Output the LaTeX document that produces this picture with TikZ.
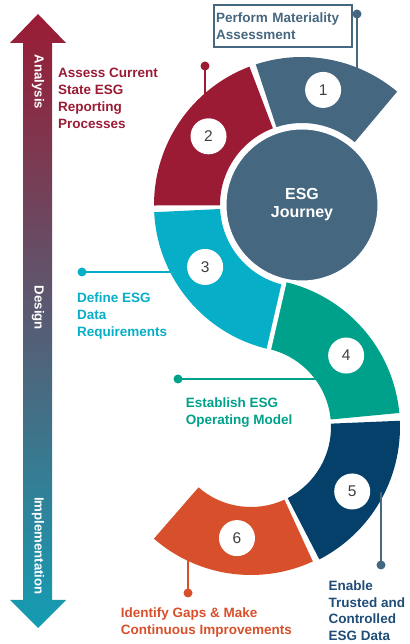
\documentclass[tikz,border=0pt]{standalone}
\usepackage{fontspec}
\setmainfont{Liberation Sans}
\usetikzlibrary{calc}
\definecolor{slate}{HTML}{466780}
\definecolor{crimson}{HTML}{9B1B34}
\definecolor{cyanseg}{HTML}{06AEC7}
\definecolor{tealseg}{HTML}{00A18A}
\definecolor{navyseg}{HTML}{05406A}
\definecolor{navytext}{HTML}{1F4D78}
\definecolor{orangeseg}{HTML}{D8502B}
\definecolor{mauve}{HTML}{7B5C76}
\definecolor{arrowteal}{HTML}{139DB3}
\definecolor{numgray}{HTML}{404040}
\newcommand\labfont{\fontsize{13.5}{17}\selectfont\bfseries}
\newcommand\ringseg[6]{%
  \fill[#6] ($(#1)+(#2:#4)$) arc[start angle=#2, end angle=#3, radius=#4]
    -- ($(#1)+(#3:#5)$) arc[start angle=#3, end angle=#2, radius=#5] -- cycle;}
\tikzset{
  lab/.style={anchor=north west, align=left, inner sep=0pt, font=\labfont},
  numc/.style={circle, fill=white, minimum size=36pt, inner sep=0pt,
    font=\fontsize{15.5}{18}\selectfont, text=numgray},
  dotnode/.style={circle, minimum size=9pt, inner sep=0pt},
  armlabel/.style={rotate=-90, text=white, inner sep=0pt,
    font=\fontsize{13.2}{15}\selectfont\bfseries},
  callout/.style={line width=1.5pt}
}
\begin{document}
\begin{tikzpicture}[x=1pt,y=1pt]
\useasboundingbox (0,0) rectangle (409,644);
\coordinate (U) at (302,439);
\coordinate (L) at (251,217);

% phase arrow
\shade[top color=crimson, middle color=mauve, bottom color=arrowteal]
  (38,630) -- (66,601) -- (52,601) -- (52,44) -- (66,44) -- (38,16)
  -- (10,44) -- (23,44) -- (23,601) -- (10,601) -- cycle;
\node[armlabel] (an) at (38,562) {Analysis};
\node[armlabel] (de) at (38,336) {Design};
\node[armlabel] (im) at (38,98) {Implementation};

% ring segments
\ringseg{U}{50}{108.2}{82pt}{148pt}{slate}
\ringseg{U}{110.8}{180.2}{82pt}{148pt}{crimson}
\ringseg{U}{182.8}{257.06}{82pt}{148pt}{cyanseg}
\ringseg{L}{77.06}{5.4}{80pt}{149pt}{tealseg}
\ringseg{L}{2.4}{-62.7}{80pt}{149pt}{navyseg}
\ringseg{L}{-65.3}{-131}{80pt}{148pt}{orangeseg}
\draw[white, line width=4.5pt] ($(U)+(257.06:78pt)$) -- ($(U)+(257.06:152pt)$);

% centre circle
\node[circle, fill=slate, draw=white, line width=3pt, minimum size=154pt,
  align=center, text=white, font=\fontsize{16}{18}\selectfont\bfseries]
  (esg) at (U) {ESG\\Journey};

% numbers
\node[numc] (n1) at ($(U)+(79.6:117pt)$) {1};
\node[numc] (n2) at ($(U)+(143.7:116pt)$) {2};
\node[numc] (n3) at ($(U)+(212.6:115pt)$) {3};
\node[numc] (n4) at ($(L)+(36.9:119pt)$) {4};
\node[numc] (n5) at ($(L)+(-32.5:120pt)$) {5};
\node[numc] (n6) at ($(L)+(-97.2:112pt)$) {6};

% callouts
\node[dotnode, fill=slate] (d1) at (357,630) {};
\coordinate (e1) at (357,570);
\draw[callout, slate] (d1.center) -- (e1);
\node[dotnode, fill=crimson] (d2) at (205,578) {};
\coordinate (e2) at (205,546);
\draw[callout, crimson] (d2.center) -- (e2);
\node[dotnode, fill=cyanseg] (d3) at (82,372) {};
\coordinate (e3) at (174,372);
\draw[callout, cyanseg] (d3.center) -- (e3);
\node[dotnode, fill=tealseg] (d4) at (178,265) {};
\coordinate (e4) at (321,265);
\draw[callout, tealseg] (d4.center) -- (e4);
\node[dotnode, fill=slate] (d5) at (381,79) {};
\coordinate (e5) at (381,152);
\draw[callout, slate] (d5.center) -- (e5);
\node[dotnode, fill=orangeseg] (d6) at (188,51) {};
\coordinate (e6) at (188,88);
\draw[callout, orangeseg] (d6.center) -- (e6);

% labels
\node[draw=slate, line width=1.2pt, minimum height=42pt, text width=134pt,
  inner xsep=2pt, inner ysep=0pt, align=left, font=\labfont, text=slate]
  (pbox) at (283,618) {Perform Materiality\\Assessment};
\node[lab, text=crimson] (t2) at (58,576.3) {Assess Current\\State ESG\\Reporting\\Processes};
\node[lab, text=cyanseg] (t3) at (77,351.3) {Define ESG\\Data\\Requirements};
\node[lab, text=tealseg] (t4) at (185.7,246.3) {Establish ESG\\Operating Model};
\node[lab, text=navytext, font=\fontsize{13.5}{16.5}\selectfont\bfseries]
  (t5) at (328.3,63) {Enable\\Trusted and\\Controlled\\ESG Data};
\node[lab, text=orangeseg] (t6) at (120.7,36) {Identify Gaps \& Make\\Continuous Improvements};
\end{tikzpicture}
\end{document}
